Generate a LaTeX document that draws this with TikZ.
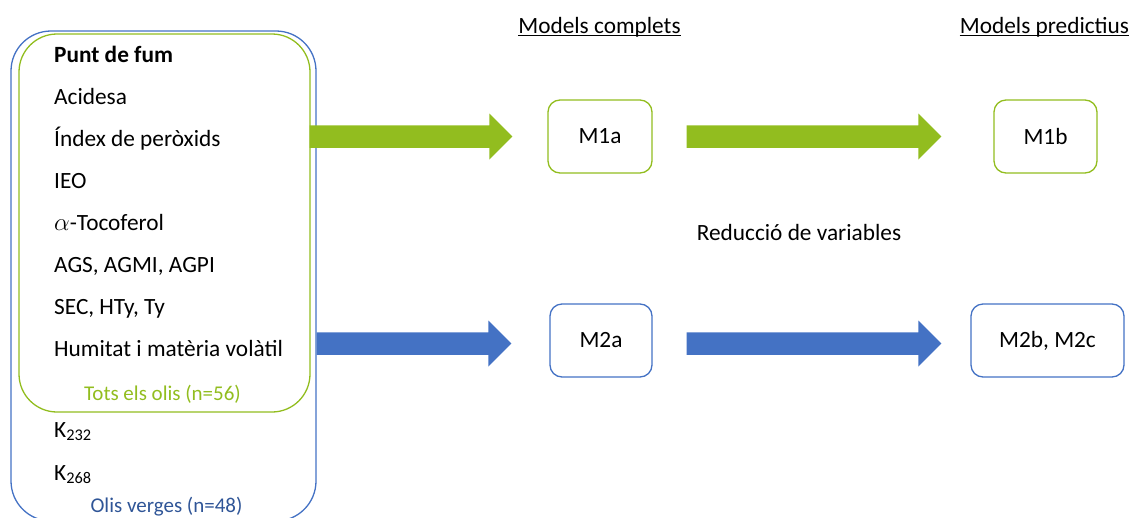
\documentclass[tikz,border=0pt]{standalone}
\usepackage{fontspec}
\setmainfont{Carlito}
\usetikzlibrary{calc}
\definecolor{gr}{HTML}{92BD1F}
\definecolor{bl}{HTML}{4472C4}
\definecolor{bltext}{HTML}{2F5597}
\newcommand\fatarrow[3]{%
  \fill[#1] ($(#2)+(0,-11.25)$) -- ($(#3)+(-23,-11.25)$) -- ($(#3)+(-23,-23)$) -- (#3)
    -- ($(#3)+(-23,23)$) -- ($(#3)+(-23,11.25)$) -- ($(#2)+(0,11.25)$) -- cycle;}
\begin{document}
\begin{tikzpicture}[x=1pt,y=-1pt,
  every node/.style={font=\fontsize{23.3}{27}\selectfont, inner sep=0pt},
  item/.style={anchor=base west},
  small/.style={anchor=base, font=\fontsize{21}{25}\selectfont},
  grbox/.style={draw=gr, line width=1.3pt, rounded corners=12pt, minimum height=73pt},
  blbox/.style={draw=bl, line width=1.3pt, rounded corners=12pt, minimum height=73pt},
  header/.style={anchor=base}]
\useasboundingbox (0,0) rectangle (1133,517);
\clip (0,0) rectangle (1133,517);

% group boxes
\node[draw=bl, line width=1.3pt, rounded corners=40pt, minimum width=305pt, minimum height=490pt] (verges) at (163.5,276) {};
\node[draw=gr, line width=1.3pt, rounded corners=38pt, minimum width=291pt, minimum height=378pt] (tots) at (164.5,223) {};

% variables
\node[item] (v1) at (54,62) {\textbf{Punt de fum}};
\node[item] (v2) at (54,104) {Acidesa};
\node[item] (v3) at (54,146) {Índex de peròxids};
\node[item] (v4) at (54,188) {IEO};
\node[item] (v5) at (54,230) {$\alpha$-Tocoferol};
\node[item] (v6) at (54,272) {AGS, AGMI, AGPI};
\node[item] (v7) at (54,314) {SEC, HTy, Ty};
\node[item] (v8) at (54,356) {Humitat i matèria volàtil};
\node[small, text=gr] (ltots) at (162.5,400) {Tots els olis (n=56)};
\node[item] (v9) at (54,437) {K\textsubscript{232}};
\node[item] (v10) at (54,480) {K\textsubscript{268}};
\node[small, text=bltext] (lverges) at (166.5,512) {Olis verges (n=48)};

% headers
\node[header] (h1) at (599.5,33) {Models complets};
\node[header] (h2) at (1044.5,33) {Models predictius};
\draw[line width=1.1pt] ($(h1.base west)+(0,2.5)$) -- ($(h1.base east)+(0,2.5)$);
\draw[line width=1.1pt] ($(h2.base west)+(0,2.5)$) -- ($(h2.base east)+(0,2.5)$);
\node[header] (red) at (799,240) {Reducció de variables};

% model boxes
\node[grbox, minimum width=104pt] (M1a) at (600,136.5) {M1a};
\node[blbox, minimum width=102pt] (M2a) at (601,340.5) {M2a};
\node[grbox, minimum width=103pt] (M1b) at (1045.5,136.5) {M1b};
\node[blbox, minimum width=153pt] (M2b) at (1047.5,340.5) {M2b, M2c};

% arrows
\coordinate (g1s) at ($(tots.east |- M1a)+(-1,0)$);
\coordinate (g1e) at ($(M1a.west)+(-35,0)$);
\coordinate (g2s) at ($(M1a.east)+(34,0)$);
\coordinate (g2e) at ($(M1b.west)+(-52,0)$);
\coordinate (b1s) at ($(verges.east |- M2a)+(0,3)$);
\coordinate (b1e) at ($(M2a.west)+(-38,3)$);
\coordinate (b2s) at ($(M2a.east)+(34,3)$);
\coordinate (b2e) at ($(M2b.west)+(-29,3)$);
\fatarrow{gr}{g1s}{g1e}
\fatarrow{gr}{g2s}{g2e}
\fatarrow{bl}{b1s}{b1e}
\fatarrow{bl}{b2s}{b2e}
\end{tikzpicture}
\end{document}
